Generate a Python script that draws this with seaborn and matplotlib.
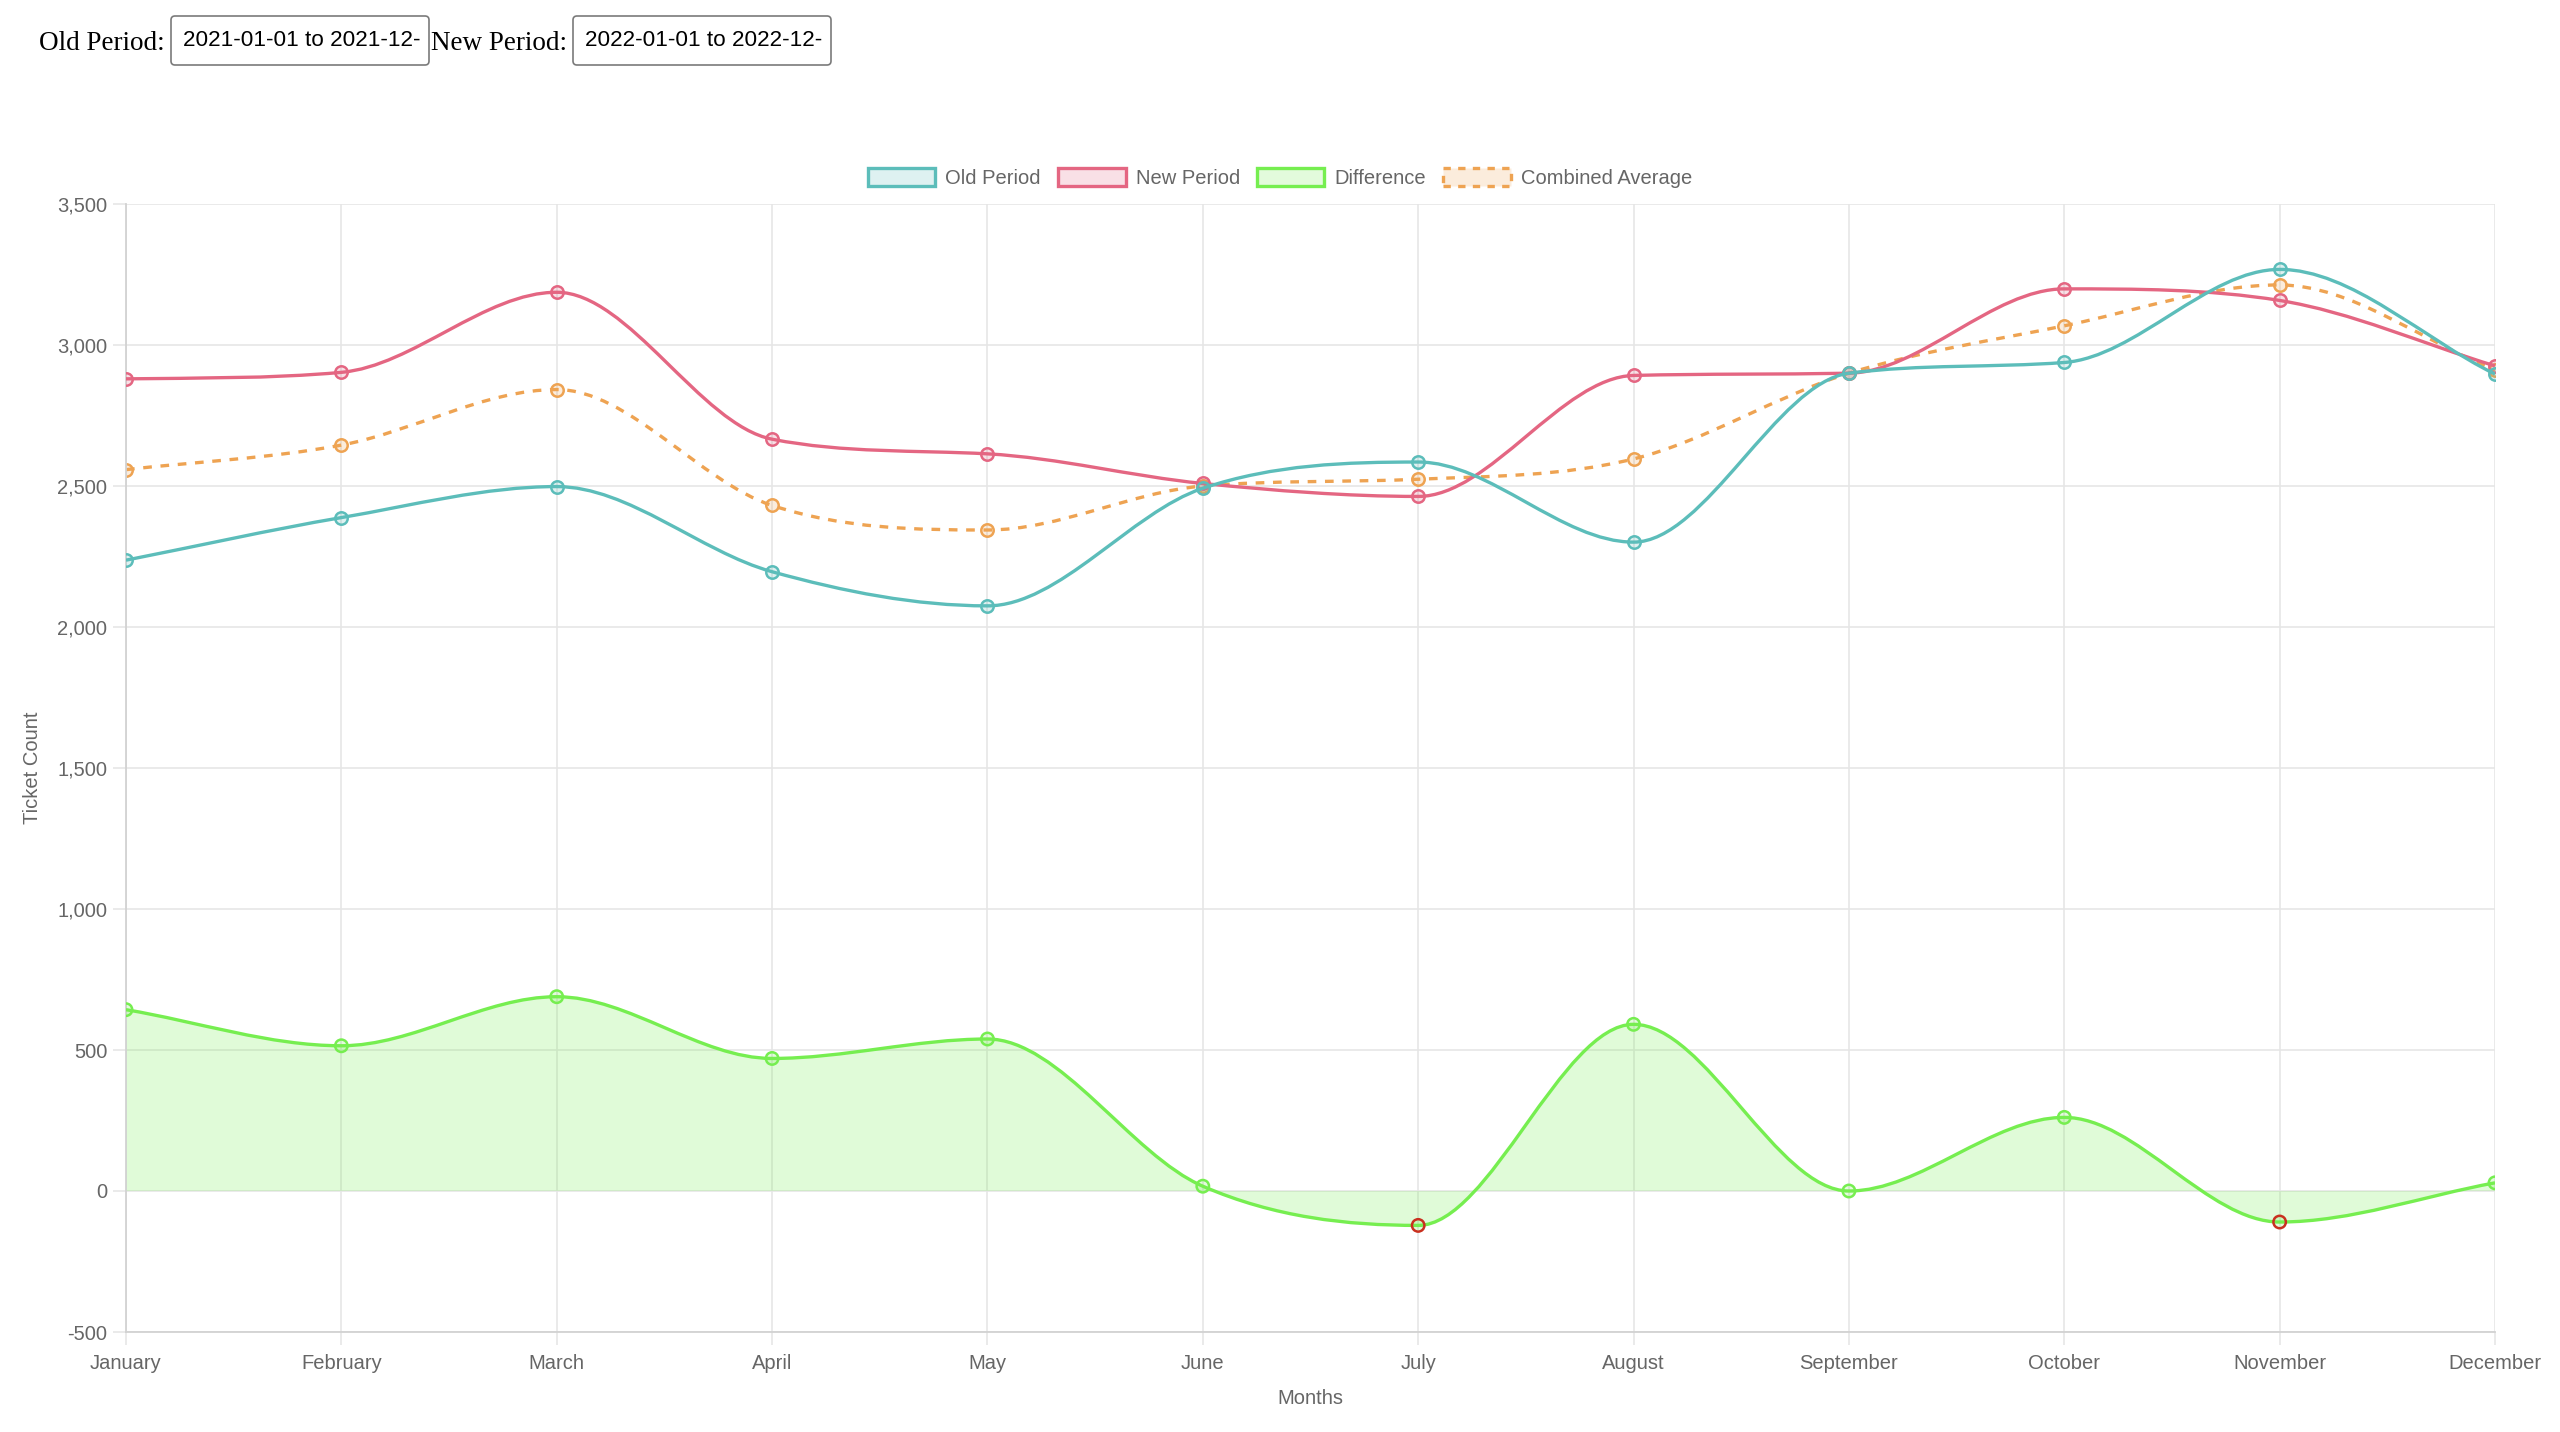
import numpy as np
import matplotlib
matplotlib.use("Agg")
import matplotlib.pyplot as plt
import seaborn as sns
from matplotlib.path import Path
from matplotlib.patches import PathPatch, Patch, FancyBboxPatch
from matplotlib.transforms import IdentityTransform
from matplotlib.ticker import FuncFormatter, MultipleLocator

# ---------------- data ----------------
months = ["January", "February", "March", "April", "May", "June", "July",
          "August", "September", "October", "November", "December"]
old_period = [2237, 2388, 2498, 2196, 2075, 2492, 2585, 2301, 2900, 2938, 3268, 2897]
new_period = [2880, 2903, 3187, 2666, 2614, 2509, 2463, 2892, 2900, 3199, 3158, 2926]
difference = [643, 515, 689, 470, 539, 17, -122, 591, 0, 261, -110, 29]
combined_avg = [2558, 2645, 2842, 2431, 2344, 2500, 2524, 2596, 2900, 3068, 3213, 2911]
series_names = ["Old Period", "New Period", "Difference", "Combined Average"]
old_range_label = "2021-01-01 to 2021-12-"
new_range_label = "2022-01-01 to 2022-12-"

# ---------------- style ----------------
sns.set_theme(style="white")
plt.rcParams["font.family"] = ["Liberation Sans", "DejaVu Sans"]

W, H = 2560, 1432
fig = plt.figure(figsize=(W / 100, H / 100), dpi=100)
fig.patch.set_facecolor("white")

L, R, T, B = 126, 2495, 204, 1332
ax = fig.add_axes([L / W, 1 - B / H, (R - L) / W, (B - T) / H])

teal = (92 / 255, 189 / 255, 186 / 255)
red = (228 / 255, 102 / 255, 130 / 255)
green = (118 / 255, 238 / 255, 80 / 255)
orange = (238 / 255, 163 / 255, 82 / 255)
neg_red = "#c9301f"
grid_c = "#e6e6e6"
text_c = "#666666"
FS = 14.5
LW = 2.4
MS = 80


def light(c, a=0.2):
    return (c[0], c[1], c[2], a)


x_idx = np.arange(len(months))

# Points via seaborn (establish categorical axis)
sns.scatterplot(x=months, y=combined_avg, ax=ax, s=MS, facecolor=light(orange),
                edgecolor=[orange], linewidth=1.8, zorder=2.2, legend=False)
diff_edges = [neg_red if v < 0 else green for v in difference]
sns.scatterplot(x=months, y=difference, ax=ax, s=MS, facecolor=light(green),
                edgecolor=diff_edges, linewidth=1.8, zorder=3.2, legend=False)
sns.scatterplot(x=months, y=new_period, ax=ax, s=MS, facecolor=light(red),
                edgecolor=[red], linewidth=1.8, zorder=4.2, legend=False)
sns.scatterplot(x=months, y=old_period, ax=ax, s=MS, facecolor=light(teal),
                edgecolor=[teal], linewidth=1.8, zorder=5.2, legend=False)

ax.set_xlim(0, len(months) - 1)
ax.set_ylim(-500, 3500)
ax.yaxis.set_major_locator(MultipleLocator(500))
ax.set_xticks(x_idx)
ax.set_xticklabels(months)
ax.yaxis.set_major_formatter(FuncFormatter(lambda v, p: f"{int(v):,}"))


def monotone_curve(xs, ys):
    """Chart.js 'monotone' cubic interpolation as bezier path."""
    xs = np.asarray(xs, float)
    ys = np.asarray(ys, float)
    n = len(xs)
    dk = np.diff(ys) / np.diff(xs)
    mk = np.zeros(n)
    mk[0] = dk[0]
    mk[-1] = dk[-1]
    for i in range(1, n - 1):
        if np.sign(dk[i - 1]) != np.sign(dk[i]):
            mk[i] = 0
        else:
            mk[i] = (dk[i - 1] + dk[i]) / 2
    for i in range(n - 1):
        if abs(dk[i]) < 1e-9:
            mk[i] = mk[i + 1] = 0
            continue
        a = mk[i] / dk[i]
        b = mk[i + 1] / dk[i]
        sq = a * a + b * b
        if sq <= 9:
            continue
        tau = 3 / np.sqrt(sq)
        mk[i] = a * tau * dk[i]
        mk[i + 1] = b * tau * dk[i]
    verts = [(xs[0], ys[0])]
    codes = [Path.MOVETO]
    for i in range(n - 1):
        dx = (xs[i + 1] - xs[i]) / 3
        verts += [(xs[i] + dx, ys[i] + dx * mk[i]),
                  (xs[i + 1] - dx, ys[i + 1] - dx * mk[i + 1]),
                  (xs[i + 1], ys[i + 1])]
        codes += [Path.CURVE4] * 3
    return np.array(verts), codes


# Difference fill (to origin)
dv, dc = monotone_curve(x_idx, difference)
fill_verts = np.vstack([dv, [[x_idx[-1], 0], [x_idx[0], 0], dv[0]]])
fill_codes = dc + [Path.LINETO, Path.LINETO, Path.CLOSEPOLY]
ax.add_patch(PathPatch(Path(fill_verts, fill_codes), facecolor=light(green, 0.22),
                       edgecolor="none", zorder=1.5))

series = [
    (combined_avg, orange, (0, (2.6, 2.6)), 2.0),
    (difference, green, "-", 3.0),
    (new_period, red, "-", 4.0),
    (old_period, teal, "-", 5.0),
]
for vals, col, ls, z in series:
    v, c = monotone_curve(x_idx, vals)
    ax.add_patch(PathPatch(Path(v, c), facecolor="none", edgecolor=col,
                           linewidth=LW, linestyle=ls, zorder=z, capstyle="butt"))

# Axes styling
ax.set_axisbelow(True)
ax.grid(True, color=grid_c, linewidth=1.2)
for s in ["top", "right"]:
    ax.spines[s].set_visible(False)
for s in ["left", "bottom"]:
    ax.spines[s].set_color("#d2d2d2")
    ax.spines[s].set_linewidth(1.3)
ax.tick_params(axis="both", which="major", length=9.5, width=1.2, color=grid_c,
               labelsize=FS, labelcolor=text_c, pad=4, left=True, bottom=True)
ax.tick_params(axis="x", pad=6)

ax.set_xlabel("Months", fontsize=FS, color=text_c)
ax.set_ylabel("Ticket Count", fontsize=FS, color=text_c)
ax.xaxis.label.set_va("center")
ax.yaxis.label.set_va("center")
ax.xaxis.set_label_coords(0.5, (B - 1398) / (B - T))
ax.yaxis.set_label_coords((33 - L) / (R - L), 0.5)

# Legend
handles = [
    Patch(facecolor=light(teal), edgecolor=teal, linewidth=LW),
    Patch(facecolor=light(red), edgecolor=red, linewidth=LW),
    Patch(facecolor=light(green), edgecolor=green, linewidth=LW),
    Patch(facecolor=light(orange), edgecolor=orange, linewidth=LW, linestyle=(0, (2.2, 2.2))),
]
leg = fig.legend(handles, series_names, loc="center", bbox_to_anchor=(0.5, 1 - 178 / H),
                 ncol=4, frameon=False, fontsize=FS, handlelength=3.35, handleheight=1.0,
                 handletextpad=0.5, columnspacing=0.85, borderaxespad=0)
for t in leg.get_texts():
    t.set_color(text_c)

# Header controls (pixel coordinates)
idt = IdentityTransform()
hy = H - 43
fig.text(39, hy, "Old Period:", transform=idt, fontsize=19.5, family="Liberation Serif",
         color="black", va="center", ha="left")
fig.text(431, hy, "New Period:", transform=idt, fontsize=19.5, family="Liberation Serif",
         color="black", va="center", ha="left")
for (bx, label) in [(171, old_range_label), (573, new_range_label)]:
    box = FancyBboxPatch((bx, H - 65), 258, 49, boxstyle="round,pad=0,rounding_size=4",
                         transform=idt, facecolor="white", edgecolor="#7a7a7a", linewidth=1.2)
    fig.add_artist(box)
    fig.text(bx + 12, H - 41, label, transform=idt, fontsize=16.2, family="Liberation Sans",
             color="black", va="center", ha="left")

fig.savefig("out.png", dpi=100, facecolor="white")
